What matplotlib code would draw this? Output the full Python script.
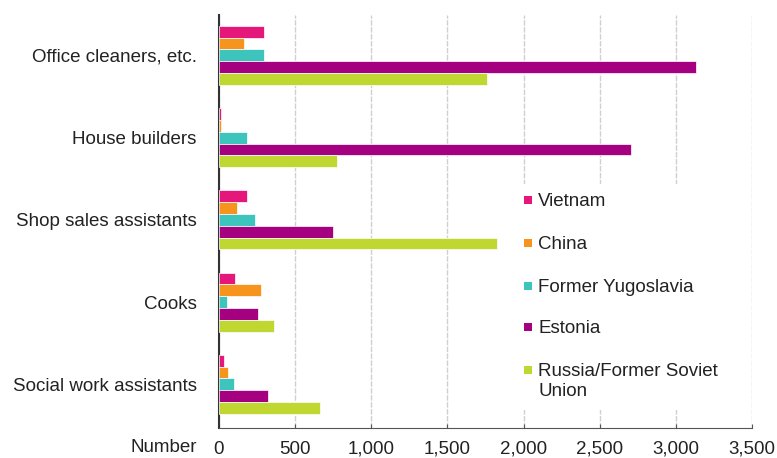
import matplotlib
matplotlib.use("Agg")
import matplotlib.pyplot as plt
import numpy as np
from matplotlib.patches import Rectangle

plt.rcParams["font.family"] = ["Liberation Sans", "DejaVu Sans"]

occupations = [
    "Office cleaners, etc.",
    "House builders",
    "Shop sales assistants",
    "Cooks",
    "Social work assistants",
]
countries = ["Vietnam", "China", "Former Yugoslavia", "Estonia", "Russia/Former Soviet\nUnion"]

vietnam = [295, 15, 183, 108, 34]
china = [161, 10, 117, 277, 56]
yugoslavia = [295, 183, 234, 54, 97]
estonia = [3130, 2704, 751, 258, 321]
russia = [1760, 773, 1828, 361, 666]

series = [vietnam, china, yugoslavia, estonia, russia]
colors = ["#e5177b", "#f7941d", "#3cc4bd", "#a4007f", "#bfd730"]

x_ticks = [0, 500, 1000, 1500, 2000, 2500, 3000, 3500]

FS = 13.5
TXT = "#222222"
W, H = 777, 458

fig = plt.figure(figsize=(7.77, 4.58), dpi=100)
ax = fig.add_axes([219 / W, 1 - 428 / H, (752 - 219) / W, (428 - 15) / H])

y = np.arange(len(occupations))
h = 0.144
for i, (vals, col) in enumerate(zip(series, colors)):
    ax.barh(y + (i - 2) * h, vals, height=h, color=col, edgecolor="white",
            linewidth=0.5, zorder=3)

ax.set_xlim(0, 3500)
ax.set_ylim(4.53, -0.49)
ax.set_xticks(x_ticks)
ax.set_xticklabels([f"{t:,}" for t in x_ticks], fontsize=FS, color=TXT)
ax.set_yticks(y)
ax.set_yticklabels(occupations, fontsize=FS, color=TXT)
ax.tick_params(axis="y", length=0, pad=16)
ax.tick_params(axis="x", direction="in", length=3, pad=9, color="#555555")

ax.grid(axis="x", color="#d0d0d0", linewidth=1, linestyle=(0, (4, 1)), zorder=0)
for s in ["top", "right"]:
    ax.spines[s].set_visible(False)
ax.spines["left"].set_color("#333333")
ax.spines["left"].set_linewidth(1.5)
ax.spines["bottom"].set_color("#555555")

fig.text(197 / W, 1 - 448 / H, "Number", ha="right", va="center",
         fontsize=FS, color=TXT)

# legend drawn by hand so the square sits on the first line of a wrapped label
fig.add_artist(Rectangle((514 / W, 1 - 410 / H), (745 - 514) / W, (410 - 184) / H,
                         transform=fig.transFigure, facecolor="white",
                         edgecolor="none", zorder=4))
legend_y = [200, 243, 286, 327, 370]
for lab, col, ypx in zip(countries, colors, legend_y):
    fig.add_artist(Rectangle((524 / W, 1 - (ypx + 4) / H), 8 / W, 8 / H,
                             transform=fig.transFigure, facecolor=col,
                             edgecolor="none", zorder=5))
    fig.text(538 / W, 1 - (ypx - 7) / H, lab, ha="left", va="top",
             fontsize=FS, color=TXT, linespacing=1.25, zorder=5)

fig.savefig("out.png", dpi=100)
